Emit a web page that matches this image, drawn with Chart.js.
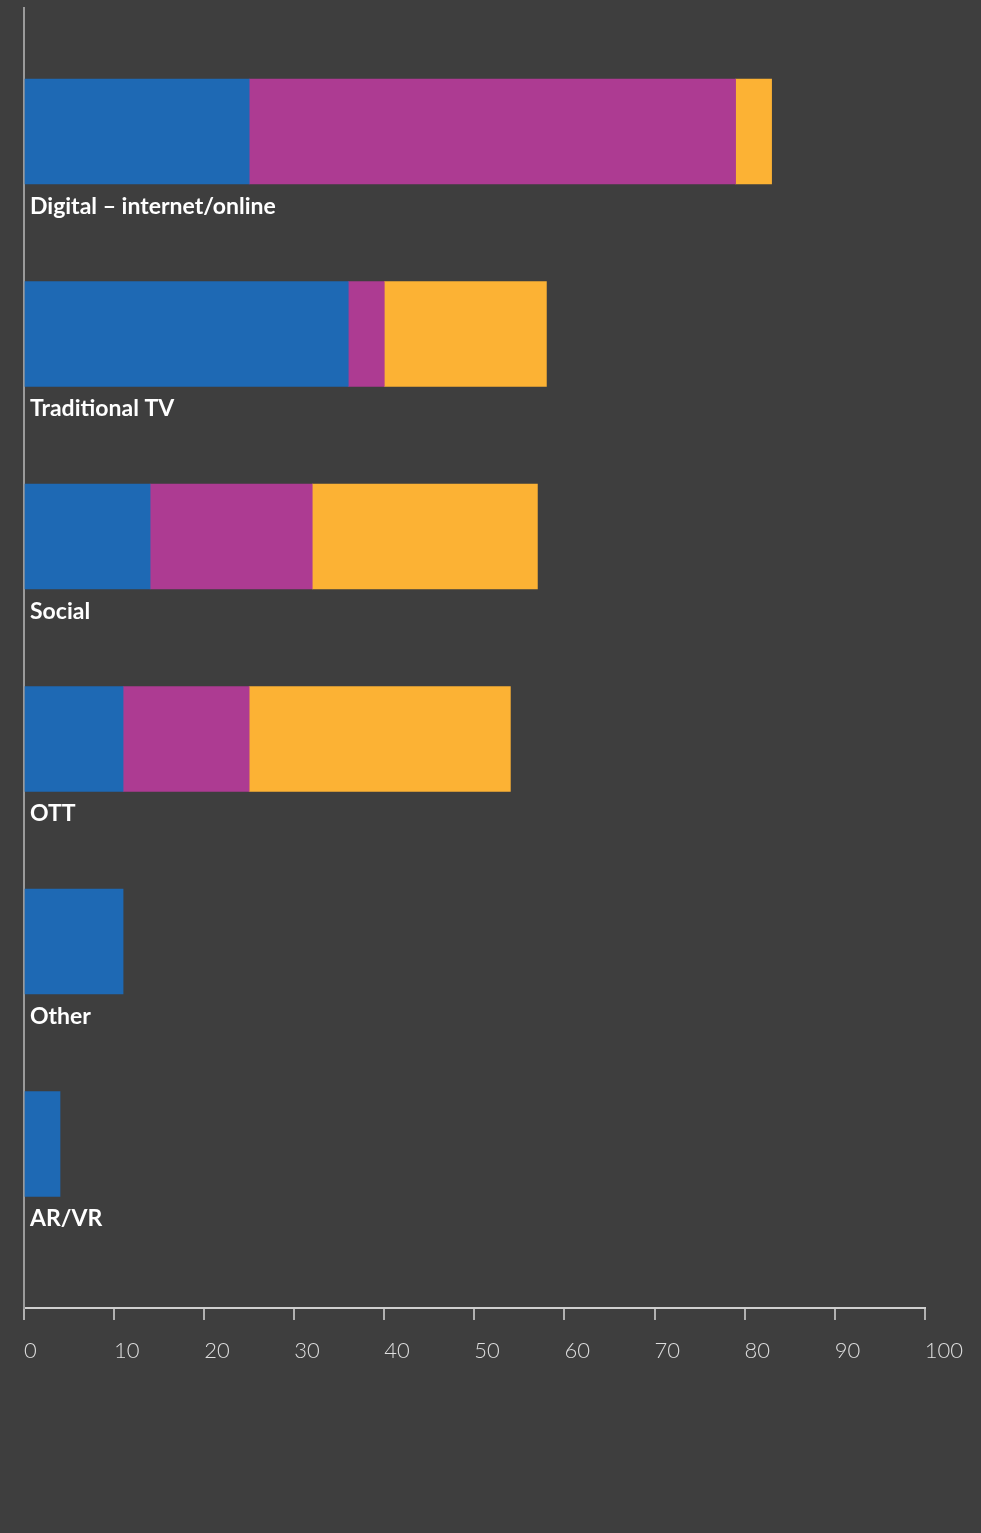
<!DOCTYPE html>
<html>
<head>
<meta charset="utf-8">
<script src="https://cdn.jsdelivr.net/npm/chart.js@4.4.1/dist/chart.umd.min.js"></script>
<style>
  html, body { margin: 0; padding: 0; background: #3e3e3e; }
  #wrap { width: 981px; height: 1533px; position: relative; }
</style>
</head>
<body>
<div id="wrap"><canvas id="chart"></canvas></div>
<script>
const categories = ['Digital – internet/online', 'Traditional TV', 'Social', 'OTT', 'Other', 'AR/VR'];
const firstChoice = [25, 36, 14, 11, 11, 4];
const secondChoice = [54, 4, 18, 14, 0, 0];
const thirdChoice = [4, 18, 25, 29, 0, 0];
const xTicks = [0, 10, 20, 30, 40, 50, 60, 70, 80, 90, 100];

const BAR = 105;

// categories sit on a linear index axis so the rows can be spread down the full axis line
const toPoints = vals => vals.map((v, i) => ({ x: v, y: i }));

// empty segments would otherwise leave a hairline from bar inflation
const fill = colour => c => (c.raw && c.raw.x === 0 ? 'rgba(0,0,0,0)' : colour);

const categoryLabels = {
  id: 'categoryLabels',
  afterDatasetsDraw(chart) {
    const { ctx, scales: { y } } = chart;
    ctx.save();
    ctx.fillStyle = '#ffffff';
    ctx.font = 'bold 23px Lato, "Open Sans", sans-serif';
    ctx.textBaseline = 'top';
    ctx.textAlign = 'left';
    categories.forEach((name, i) => {
      const bottom = y.getPixelForValue(i) + BAR / 2;
      ctx.fillText(name, chart.chartArea.left + 6, bottom + 11);
    });
    ctx.restore();
  }
};

const barStyle = { borderWidth: 0, borderSkipped: false, barThickness: BAR };

new Chart(document.getElementById('chart'), {
  type: 'bar',
  data: {
    datasets: [
      { label: 'Ranked 1st', data: toPoints(firstChoice), backgroundColor: fill('#1e69b4'), ...barStyle },
      { label: 'Ranked 2nd', data: toPoints(secondChoice), backgroundColor: fill('#ad3b92'), ...barStyle },
      { label: 'Ranked 3rd', data: toPoints(thirdChoice), backgroundColor: fill('#fcb234'), ...barStyle }
    ]
  },
  options: {
    indexAxis: 'y',
    responsive: true,
    maintainAspectRatio: false,
    animation: false,
    layout: { padding: { left: 24, right: 55, top: 8, bottom: 0 } },
    plugins: { legend: { display: false }, tooltip: { enabled: false } },
    scales: {
      x: {
        type: 'linear',
        stacked: true,
        min: 0,
        max: 100,
        afterBuildTicks: scale => { scale.ticks = xTicks.map(v => ({ value: v })); },
        afterFit: scale => { scale.height = 225; },
        border: { display: true, color: '#cfcfcf', width: 2 },
        grid: { drawOnChartArea: false, drawTicks: true, tickLength: 12, color: '#b0b0b0', lineWidth: 2 },
        ticks: {
          align: 'start',
          padding: 18,
          color: '#dedede',
          font: { family: 'Lato, "Open Sans", sans-serif', size: 22, weight: '300' }
        }
      },
      y: {
        type: 'linear',
        stacked: true,
        reverse: true,
        offset: false,
        min: -0.61,
        max: 5.81,
        afterFit: scale => { scale.width = 0; },
        border: { display: true, color: '#9a9a9a', width: 2 },
        grid: { display: false, offset: false },
        ticks: { display: false }
      }
    }
  },
  plugins: [categoryLabels]
});
</script>
</body>
</html>
